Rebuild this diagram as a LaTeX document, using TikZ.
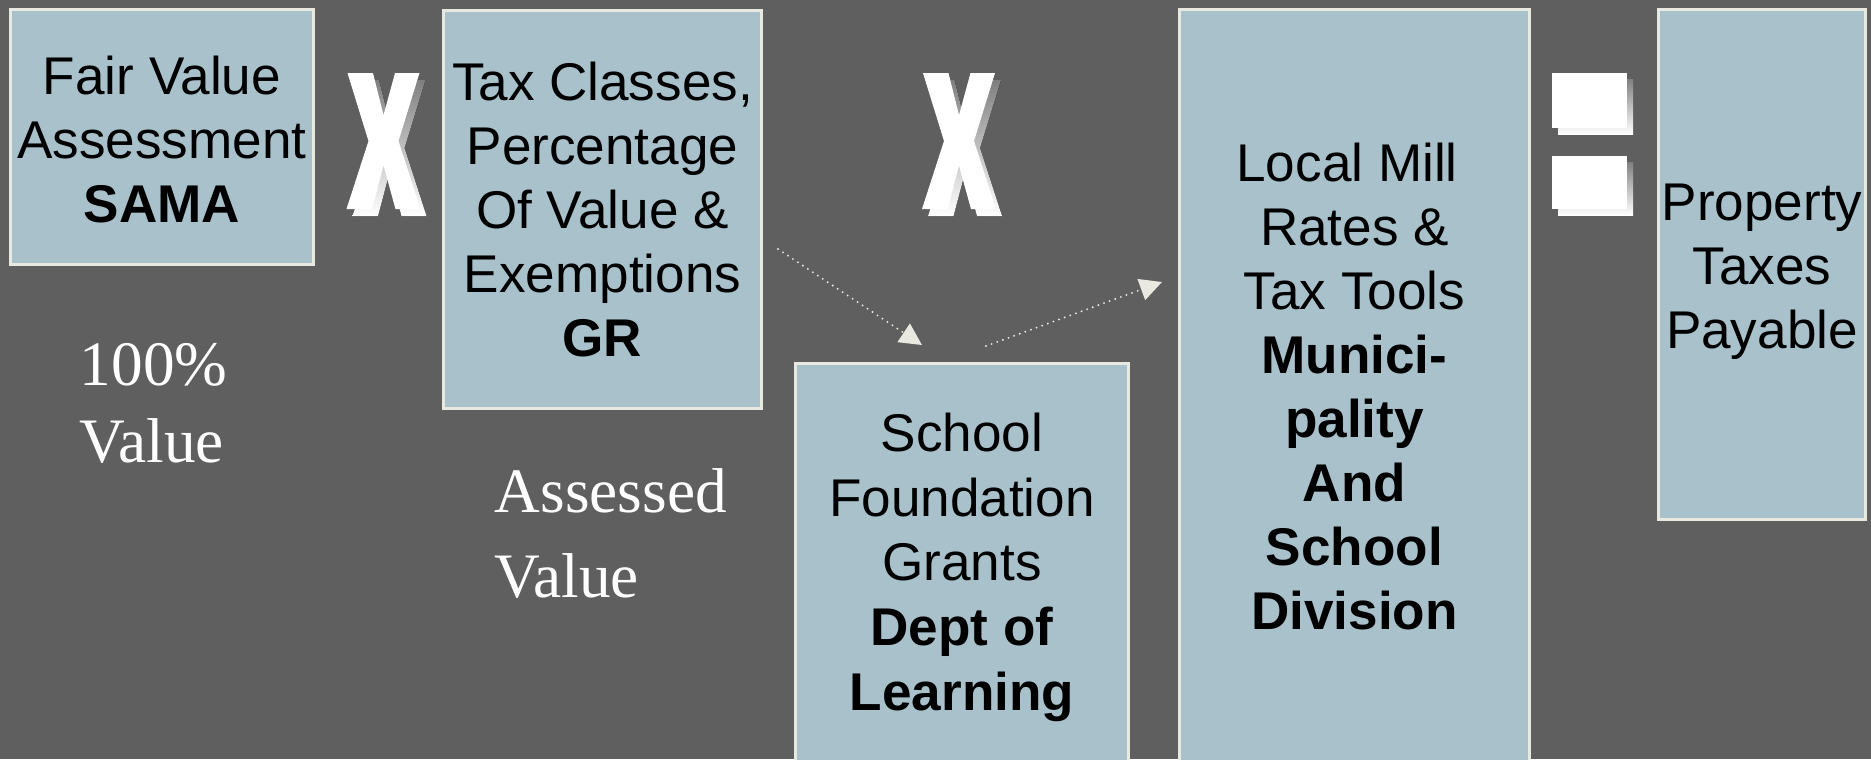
\documentclass[tikz,border=0pt]{standalone}
\usepackage{fontspec}
\setmainfont{Liberation Sans}
\newfontfamily\timesfont{Liberation Serif}
\usepackage{xcolor}
\usetikzlibrary{arrows.meta}

\definecolor{slide}{RGB}{95,95,95}
\definecolor{panel}{RGB}{168,193,203}
\definecolor{rim}{RGB}{233,233,225}
\definecolor{shade}{RGB}{74,74,74}

% a space kept at the end of a centred line
\newcommand{\tsp}{\hspace*{0.278em}}

\begin{document}
\begin{tikzpicture}[x=0.01cm, y=-0.01cm,
    panelbox/.style={draw=rim, line width=0.8pt, fill=panel, anchor=north west, inner sep=0pt},
    boxtext/.style={anchor=base, align=center, inner sep=0pt, font=\fontsize{15.1}{18.2}\selectfont},
    valtext/.style={anchor=base west, align=left, inner sep=0pt, text=white},
    flow/.style={draw=rim, line width=0.6pt, line cap=round, dash pattern=on 0pt off 1.7pt,
                 -{Triangle[length=0.22cm, width=0.22cm]}}]

    % 1. Nền xám
    \useasboundingbox (0,0) rectangle (1871,759);
    \fill[slide] (0,0) rectangle (1871,759);

    % 2. Các ô
    \node[panelbox, minimum width=3.03cm, minimum height=2.55cm] (sama) at (9,8) {};
    \node[panelbox, minimum width=3.18cm, minimum height=3.98cm] (tax) at (442,9) {};
    \node[panelbox, minimum width=3.33cm, minimum height=4.2cm] (school) at (794,362) {};
    \node[panelbox, minimum width=3.50cm, minimum height=7.9cm] (mill) at (1178,8) {};
    \node[panelbox, minimum width=2.07cm, minimum height=5.10cm] (payable) at (1657,8) {};

    % 3. Dấu nhân và dấu bằng (có bóng)
    \foreach \cx/\h in {383.5/136, 959/136}
        \foreach \col/\dx/\dy in {shade/6/7, white/0/0}
            \fill[\col, shift={(\dx,\dy)}]
                (\cx-36,73) -- (\cx-10.5,73) -- (\cx,{73+0.31*\h}) -- (\cx+11.5,73) -- (\cx+36,73)
                -- (\cx+15,{73+0.5*\h}) -- (\cx+37,{73+\h}) -- (\cx+12,{73+\h})
                -- (\cx,{73+0.68*\h}) -- (\cx-11.5,{73+\h}) -- (\cx-37,{73+\h})
                -- (\cx-15,{73+0.5*\h}) -- cycle;
    \foreach \col/\off in {shade/6, white/0} {
        \fill[\col, shift={(\off,\off)}] (1552,73) rectangle (1627,128);
        \fill[\col, shift={(\off,\off)}] (1552,156) rectangle (1627,209);
    }

    % 4. Mũi tên chấm
    \draw[flow] ([shift={(15,39.5)}]tax.east) -- ([shift={(-40,-17)}]school.north);
    \draw[flow] ([shift={(24,-16)}]school.north) -- ([shift={(-16,274)}]mill.north west);

    % 5. Chữ trong các ô (neo ở dòng cuối)
    \node[boxtext] (samat) at (162,222) {Fair Value\\Assessment\\\textbf{SAMA}};
    \node[boxtext] (taxt) at (602.5,356)
        {Tax Classes,\\Percentage\tsp\\Of Value \&\tsp\\Exemptions\\\textbf{GR}};
    \node[boxtext, font=\fontsize{15.1}{18.35}\selectfont] (schoolt) at (962,710)
        {School\\Foundation\\Grants\\\textbf{Dept of\tsp}\\\textbf{Learning}};
    \node[boxtext] (millt) at (1354.5,629)
        {Local Mill\tsp\\Rates \&\\Tax Tools\\\textbf{Munici-}\\\textbf{pality}\\
         \textbf{And\tsp}\\\textbf{School}\\\textbf{Division}};
    \node[boxtext] (payablet) at (1762,348) {Property\\Taxes\\Payable};

    % 6. Chữ trắng bên dưới
    \node[valtext, font=\timesfont\fontsize{18}{21.9}\selectfont] (full) at (79,462) {100\%\\Value};
    \node[valtext, font=\timesfont\fontsize{18}{23.9}\selectfont] (assessed) at (494,597) {Assessed\\Value};

\end{tikzpicture}
\end{document}
